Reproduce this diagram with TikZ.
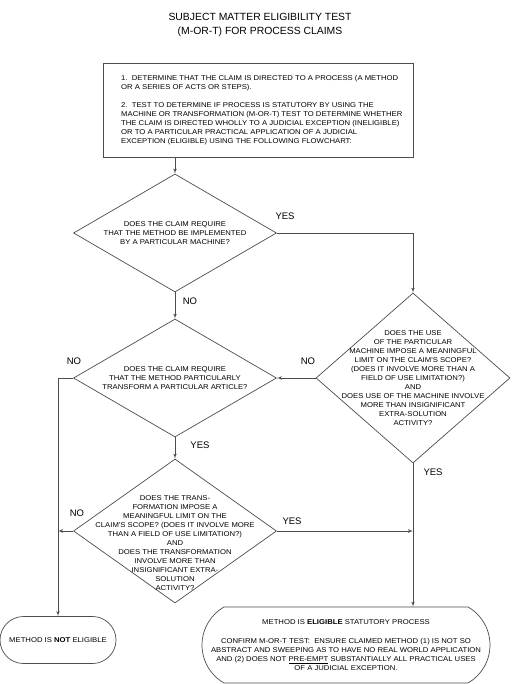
\documentclass[tikz,border=0pt]{standalone}
\usepackage{fontspec}
\setmainfont{Liberation Sans}
\newfontfamily\chartfont[FakeStretch=1.1]{Liberation Sans}
\usepackage{tikz}
\usetikzlibrary{positioning,shapes,shapes.geometric,shapes.misc,arrows,shadows,calc}
\tikzset{
  basic/.style  = {draw=black!70, line width=0.7pt, inner sep=0pt},
  setup/.style  = {basic, rectangle, fill=white,
                   drop shadow={shadow xshift=1pt, shadow yshift=-1pt, fill=black!35}},
  decision/.style = {basic, diamond},
  qtext/.style  = {align=center, font=\qfont, inner sep=0pt},
  terminal/.style = {basic, rounded rectangle},
  answer/.style = {font=\fontsize{9.5}{10}\selectfont, inner sep=0pt},
  edge/.style={->, >=latex', draw=black!70, line width=0.7pt}
}
\newcommand{\qfont}{\chartfont\fontsize{7}{9}\selectfont}

\begin{document}
\begin{tikzpicture}[x=1pt,y=-1pt]
  \useasboundingbox (0,0) rectangle (515,684);
  \node[align=center, font=\fontsize{10.4}{14}\selectfont] (title) at (260,25)
    {SUBJECT MATTER ELIGIBILITY TEST\\(M-OR-T) FOR PROCESS CLAIMS};
  \node[setup, minimum width=310pt, minimum height=94pt] (setup) at (258,110) {};
  \node[qtext, align=left, anchor=west] (setup-txt) at (121,110)
    {1.\ \ DETERMINE THAT THE CLAIM IS DIRECTED TO A PROCESS (A METHOD\\
     OR A SERIES OF ACTS OR STEPS).\\[9pt]
     2.\ \ TEST TO DETERMINE IF PROCESS IS STATUTORY BY USING THE\\
     MACHINE OR TRANSFORMATION (M-OR-T) TEST TO DETERMINE WHETHER\\
     THE CLAIM IS DIRECTED WHOLLY TO A JUDICIAL EXCEPTION (INELIGIBLE)\\
     OR TO A PARTICULAR PRACTICAL APPLICATION OF A JUDICIAL\\
     EXCEPTION (ELIGIBLE) USING THE FOLLOWING FLOWCHART:};

  % decisions
  \node[decision, minimum width=203pt, minimum height=118pt] (qmachine) at (175,233) {};
  \node[qtext] (qmachine-txt) at (qmachine.center)
    {DOES THE CLAIM REQUIRE\\THAT THE METHOD BE IMPLEMENTED\\BY A PARTICULAR MACHINE?};
  \node[decision, minimum width=194pt, minimum height=170pt] (qmachuse) at (413,378) {};
  \node[qtext] (qmachuse-txt) at (qmachuse.center)
    {DOES THE USE\\OF THE PARTICULAR\\MACHINE IMPOSE A MEANINGFUL\\LIMIT ON THE CLAIM'S SCOPE?\\
     (DOES IT INVOLVE MORE THAN A\\FIELD OF USE LIMITATION?)\\AND\\DOES USE OF THE MACHINE INVOLVE\\
     MORE THAN INSIGNIFICANT\\EXTRA-SOLUTION\\ACTIVITY?};
  \node[decision, minimum width=203pt, minimum height=118pt] (qarticle) at (175,378) {};
  \node[qtext] (qarticle-txt) at (qarticle.center)
    {DOES THE CLAIM REQUIRE\\THAT THE METHOD PARTICULARLY\\TRANSFORM A PARTICULAR ARTICLE?};
  \node[decision, minimum width=203pt, minimum height=144pt] (qtrans) at (175,531) {};
  \node[qtext] (qtrans-txt) at (175,543)
    {DOES THE TRANS-\\FORMATION IMPOSE A\\MEANINGFUL LIMIT ON THE\\CLAIM'S SCOPE? (DOES IT INVOLVE MORE\\
     THAN A FIELD OF USE LIMITATION?)\\AND\\DOES THE TRANSFORMATION\\INVOLVE MORE THAN\\
     INSIGNIFICANT EXTRA-\\SOLUTION\\ACTIVITY?};

  % outcomes
  \node[terminal, minimum width=116pt, minimum height=47pt] (notelig) at (58,640) {};
  \node[qtext] (notelig-txt) at (notelig.center) {METHOD IS \textbf{NOT} ELIGIBLE};
  \node[terminal, minimum width=288pt, minimum height=76pt, rounded rectangle arc length=120] (elig) at (346,645) {};
  \node[qtext] (elig-txt) at (elig.center)
    {METHOD IS \textbf{ELIGIBLE} STATUTORY PROCESS\\[10pt]
     CONFIRM M-OR-T TEST:\ \ ENSURE CLAIMED METHOD (1) IS NOT SO\\
     ABSTRACT AND SWEEPING AS TO HAVE NO REAL WORLD APPLICATION\\
     AND (2) DOES NOT \underline{PRE-EMPT} SUBSTANTIALLY ALL PRACTICAL USES\\
     OF A JUDICIAL EXCEPTION.};

  % connectors
  \draw[edge] (setup.south -| qmachine.north) -- (qmachine.north);
  \draw[edge] (qmachine.east) -| (qmachuse.north);
  \draw[edge] (qmachine.south) -- (qarticle.north);
  \draw[edge] (qmachuse.west) -- (qarticle.east);
  \draw[edge] (qarticle.west) -| (notelig.north);
  \draw[edge] (qarticle.south) -- (qtrans.north);
  \draw[edge] (qtrans.west) -- (qtrans.west -| notelig.north);
  \draw[edge] (qtrans.east) -- (qtrans.east -| qmachuse.south);
  \draw[edge] (qmachuse.south) -- (qmachuse.south |- elig.north);

  % answers
  \node[answer] (yes-machine) at (285,216) {YES};
  \node[answer] (no-machine) at (190,301) {NO};
  \node[answer] (no-machuse) at (308,361) {NO};
  \node[answer] (no-article) at (74,361) {NO};
  \node[answer] (yes-article) at (200,445) {YES};
  \node[answer] (yes-machuse) at (433,472) {YES};
  \node[answer] (no-trans) at (77,513) {NO};
  \node[answer] (yes-trans) at (292,521) {YES};
\end{tikzpicture}
\end{document}
